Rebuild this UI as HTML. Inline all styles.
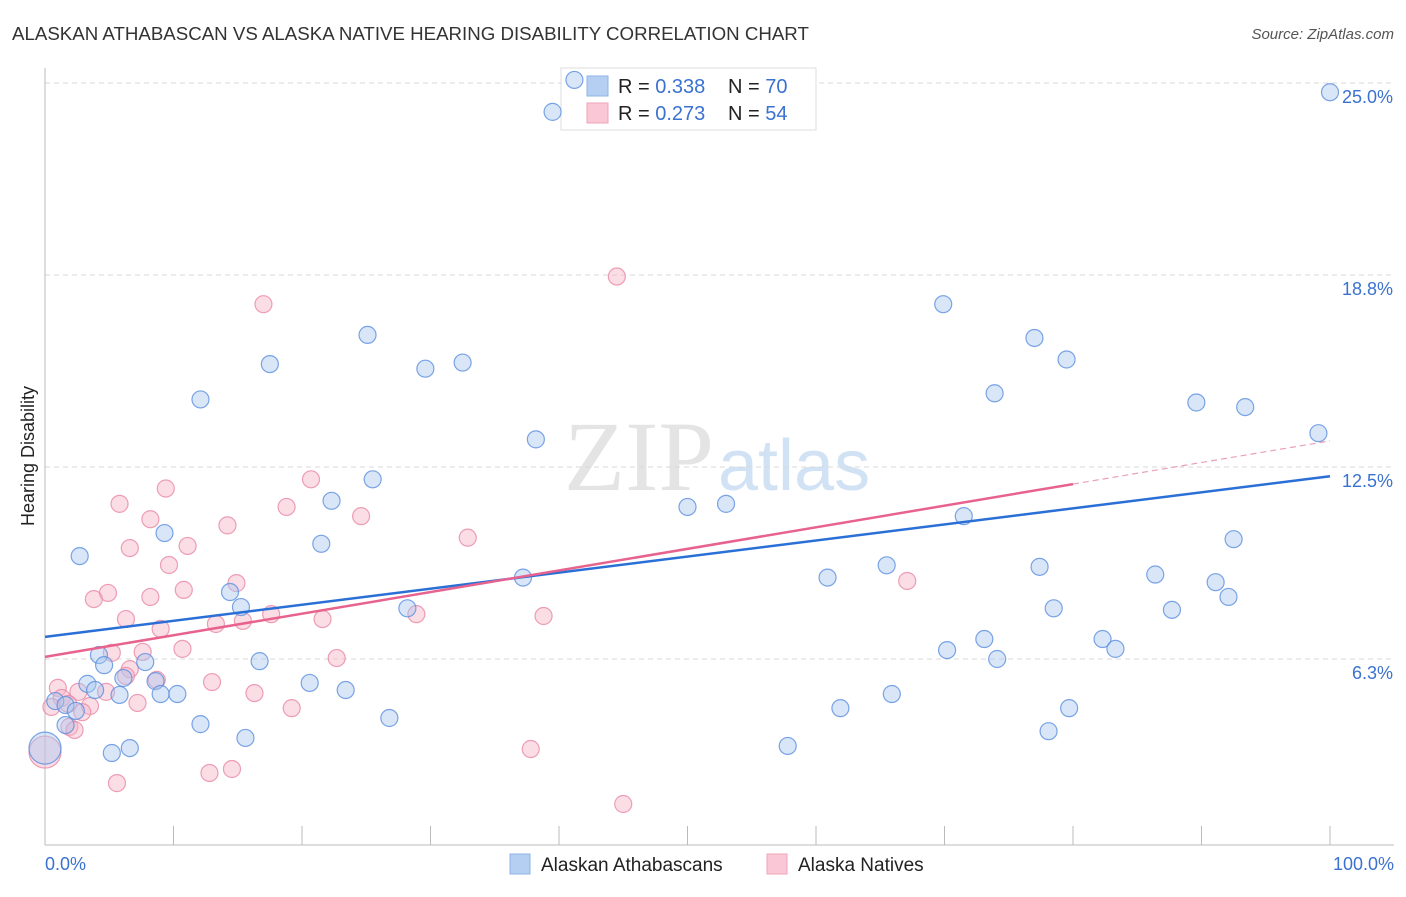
<!DOCTYPE html>
<html><head><meta charset="utf-8"><style>
body{margin:0;background:#fff;font-family:"Liberation Sans",sans-serif}
</style></head><body>
<svg id="c" width="1406" height="892" xmlns="http://www.w3.org/2000/svg" style="font-family:'Liberation Sans',sans-serif">
<text x="12" y="40" font-size="18.7" fill="#333">ALASKAN ATHABASCAN VS ALASKA NATIVE HEARING DISABILITY CORRELATION CHART</text>
<text x="1394" y="39" font-size="15" fill="#555" text-anchor="end" font-style="italic">Source: ZipAtlas.com</text>
<text x="0" y="0" transform="translate(34,456) rotate(-90)" font-size="18" fill="#222" text-anchor="middle">Hearing Disability</text>
<text x="714" y="490" font-size="100" fill="#e4e4e4" text-anchor="end" font-family="Liberation Serif">ZIP</text>
<text x="718" y="490" font-size="72" fill="#d2e2f5">atlas</text>
<g id="grid"></g>
<g>
<rect x="561" y="68" width="255" height="62" fill="#fff" stroke="#ddd"/>
<rect x="587" y="76" width="21" height="20" fill="#b5cff2" stroke="#8fb3e6"/>
<rect x="587" y="103" width="21" height="20" fill="#f9c7d5" stroke="#efa3ba"/>
<text x="618" y="93" font-size="20" fill="#222">R = <tspan fill="#3a72d0">0.338</tspan></text>
<text x="728" y="93" font-size="20" fill="#222">N = <tspan fill="#3a72d0">70</tspan></text>
<text x="618" y="120" font-size="20" fill="#222">R = <tspan fill="#3a72d0">0.273</tspan></text>
<text x="728" y="120" font-size="20" fill="#222">N = <tspan fill="#3a72d0">54</tspan></text>
</g>
<g id="pts"></g><g id="trend"></g>
<g>
<rect x="510" y="854" width="20" height="20" fill="#b5cff2" stroke="#8fb3e6"/>
<text x="541" y="871" font-size="19" fill="#222">Alaskan Athabascans</text>
<rect x="767" y="854" width="20" height="20" fill="#f9c7d5" stroke="#efa3ba"/>
<text x="798" y="871" font-size="19" fill="#222">Alaska Natives</text>
</g>
</svg>
<script>
const yTicks=[25.0,18.8,12.5,6.3];
const yGrid=[25,18.75,12.5,6.25];
const xTickLabels=["0.0%","100.0%"];
const blueX=[41.2,39.5,100,12.1,17.5,25.1,29.6,32.5,69.9,77.0,79.5,73.9,89.6,93.4,99.1,38.2,25.5,22.3,50.0,53.0,71.5,9.3,2.7,21.5,92.5,37.2,60.9,65.5,77.4,86.4,91.1,92.1,14.4,15.25,28.2,78.5,87.7,73.1,82.3,83.3,70.2,74.1,4.2,4.6,7.8,16.7,6.1,8.6,3.3,3.9,9.0,10.3,5.8,20.6,23.4,65.9,0.8,1.6,2.4,61.9,79.7,26.8,12.1,1.6,15.6,78.1,6.6,5.2,57.8,0];
const blueY=[25.1,24.06,24.7,14.7,15.85,16.8,15.7,15.9,17.8,16.7,16.0,14.9,14.6,14.45,13.6,13.4,12.1,11.4,11.2,11.3,10.9,10.35,9.6,10.0,10.15,8.9,8.9,9.3,9.25,9.0,8.75,8.27,8.43,7.94,7.9,7.9,7.85,6.9,6.9,6.58,6.54,6.25,6.38,6.05,6.15,6.18,5.63,5.53,5.44,5.24,5.11,5.11,5.08,5.47,5.24,5.11,4.88,4.75,4.56,4.65,4.65,4.33,4.13,4.1,3.68,3.9,3.35,3.19,3.42,3.35];
const pinkX=[44.5,17.0,20.7,9.4,5.8,8.2,24.6,18.8,14.2,32.9,6.6,11.1,9.65,14.9,67.1,4.9,10.8,3.8,8.2,17.6,21.6,6.3,38.8,28.9,13.3,15.4,9.0,10.7,7.6,22.7,5.2,6.6,6.3,8.7,13.0,1.0,2.6,4.75,16.3,1.3,1.8,0.5,3.5,2.9,7.2,19.2,1.9,2.3,37.8,12.8,14.55,5.6,45.0,0];
const pinkY=[18.7,17.8,12.1,11.8,11.3,10.8,10.9,11.2,10.6,10.2,9.86,9.93,9.31,8.72,8.79,8.4,8.5,8.2,8.27,7.71,7.55,7.55,7.65,7.71,7.39,7.49,7.23,6.58,6.48,6.28,6.45,5.92,5.7,5.57,5.5,5.31,5.18,5.18,5.14,4.98,4.79,4.69,4.72,4.52,4.82,4.65,4.04,3.94,3.32,2.54,2.67,2.21,1.53,3.22];
const blueTrend=[6.97,12.2];
const pinkTrend=[6.32,13.35];
const X=p=>45+p*12.85, Y=v=>851-v*30.72;
const NS="http://www.w3.org/2000/svg";
function mk(tag,attrs,parent){const e=document.createElementNS(NS,tag);for(const k in attrs)e.setAttribute(k,attrs[k]);parent.appendChild(e);return e;}
const g=document.getElementById('grid');
yGrid.forEach((v,i)=>{
 let l=mk('line',{x1:45,x2:1394,y1:Y(v),y2:Y(v),stroke:'#d8d8d8','stroke-dasharray':'5,4'},g);
 
 
 let t=mk('text',{x:1393,y:Y(v)+20,'font-size':18,fill:'#3a72d0','text-anchor':'end'},g);t.textContent=yTicks[i].toFixed(1)+'%';
 
 
});
let ax=mk('line',{x1:45,x2:45,y1:68,y2:845,stroke:'#bbb'},g);


let bx=mk('line',{x1:45,x2:1394,y1:845,y2:845,stroke:'#bbb'},g);


for(let i=0;i<=10;i++){let tk=mk('line',{x1:X(i*10),x2:X(i*10),y1:826,y2:845,stroke:'#bbb'},g);
 
 }
[[0,45,'start'],[1,1394,'end']].forEach(([i,x,a])=>{let t=mk('text',{x:x,y:870,'font-size':18,fill:'#3a72d0','text-anchor':a},g);t.textContent=xTickLabels[i];
 
 });
const pts=document.getElementById('pts');
function draw(xs,ys,fill,stroke,name){xs.forEach((x,i)=>{const big=(x===0);
 let c=mk('circle',{cx:X(x),cy:Y(ys[i]),r:big?16:8.5,fill:fill,'fill-opacity':0.45,stroke:stroke,'stroke-width':1.2,'stroke-opacity':0.8},pts);
 
 });}
draw(pinkX,pinkY,'#f7b3c6','#e888a6','alaska-natives-point');
draw(blueX,blueY,'#a8c7f0','#5b8fe0','alaskan-athabascans-point');
const tr=document.getElementById('trend');
let bl=mk('line',{x1:X(0),y1:Y(blueTrend[0]),x2:X(100),y2:Y(blueTrend[1]),stroke:'#2a6fd6','stroke-width':2.5},tr);


const pv=p=>pinkTrend[0]+(pinkTrend[1]-pinkTrend[0])*p/100;
let pl=mk('line',{x1:X(0),y1:Y(pv(0)),x2:X(80),y2:Y(pv(80)),stroke:'#e8628e','stroke-width':2.5},tr);


let pd=mk('line',{x1:X(80),y1:Y(pv(80)),x2:X(100),y2:Y(pv(100)),stroke:'#e8a0b8','stroke-width':1.2,'stroke-dasharray':'6,4'},tr);


</script>
</body></html>
